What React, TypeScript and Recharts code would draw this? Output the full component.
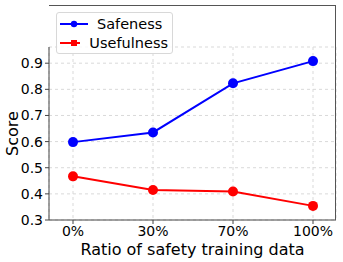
import { LineChart, Line, XAxis, YAxis, CartesianGrid, Legend } from 'recharts'

const ratios = ['0%', '30%', '70%', '100%']
const safeness = [0.598, 0.635, 0.823, 0.908]
const usefulness = [0.467, 0.415, 0.409, 0.354]
const yTicks = [0.3, 0.4, 0.5, 0.6, 0.7, 0.8, 0.9]

const BLUE = '#0000ff'
const RED = '#ff0000'
const FONT = '"DejaVu Sans", sans-serif'

const data = ratios.map((r, i) => ({ ratio: r, Safeness: safeness[i], Usefulness: usefulness[i] }))

function LegendBox() {
  const row = (label: string, color: string, square: boolean) => (
    <div style={{ display: 'flex', alignItems: 'center', height: 19 }}>
      <svg width={28} height={10} style={{ marginRight: 9 }}>
        <line x1={0} y1={5} x2={28} y2={5} stroke={color} strokeWidth={2} />
        {square
          ? <rect x={11} y={2} width={6} height={6} fill={color} />
          : <circle cx={14} cy={5} r={3.2} fill={color} />}
      </svg>
      <span>{label}</span>
    </div>
  )
  return (
    <div style={{
      border: '1px solid #d8d8d8', borderRadius: 3, background: 'rgba(255,255,255,0.85)',
      padding: '1px 4px 1px 3px', fontFamily: FONT, fontSize: 14.5, color: '#000', width: 108,
    }}>
      {row('Safeness', BLUE, false)}
      {row('Usefulness', RED, true)}
    </div>
  )
}

export default function App() {
  return (
    <div style={{ position: 'absolute', left: 0, top: 0, width: 343, height: 262, background: '#fff' }}>
      <LineChart width={343} height={262} data={data} margin={{ top: 5, right: 7, left: 0, bottom: 0 }}>
        <CartesianGrid stroke="#d9d9d9" strokeDasharray="3 3" />
        <XAxis
          dataKey="ratio"
          padding={{ left: 24, right: 23 }}
          height={42}
          stroke="#444"
          tickSize={4}
          tick={{ fill: '#000', fontSize: 14, fontFamily: FONT }}
          label={{ value: 'Ratio of safety training data', position: 'insideBottom', offset: 7, fill: '#000', fontSize: 16, fontFamily: FONT }}
        />
        <YAxis
          domain={[0.3, 0.962]}
          ticks={yTicks}
          width={49}
          stroke="#444"
          tickSize={4}
          tickFormatter={(v: number) => v.toFixed(1)}
          tick={{ fill: '#000', fontSize: 14, fontFamily: FONT }}
          label={{ value: 'Score', angle: -90, position: 'insideLeft', offset: 12, fill: '#000', fontSize: 16, fontFamily: FONT, style: { textAnchor: 'middle' } }}
        />
        <Legend
          layout="vertical"
          align="center"
          verticalAlign="top"
          wrapperStyle={{ left: 56, top: 12, width: 'auto' }}
          content={() => <LegendBox />}
        />
        <Line dataKey="Safeness" stroke={BLUE} strokeWidth={2} dot={{ r: 5, fill: BLUE, stroke: BLUE, strokeWidth: 0 }} activeDot={false} isAnimationActive={false} />
        <Line dataKey="Usefulness" stroke={RED} strokeWidth={2} dot={{ r: 5, fill: RED, stroke: RED, strokeWidth: 0 }} activeDot={false} isAnimationActive={false} />
      </LineChart>
      <div style={{
        position: 'absolute', left: 49, top: 5, width: 287, height: 215,
        border: '1.5px solid #555', boxSizing: 'border-box', borderLeft: 'none', borderBottom: 'none', pointerEvents: 'none',
      }} />
    </div>
  )
}
